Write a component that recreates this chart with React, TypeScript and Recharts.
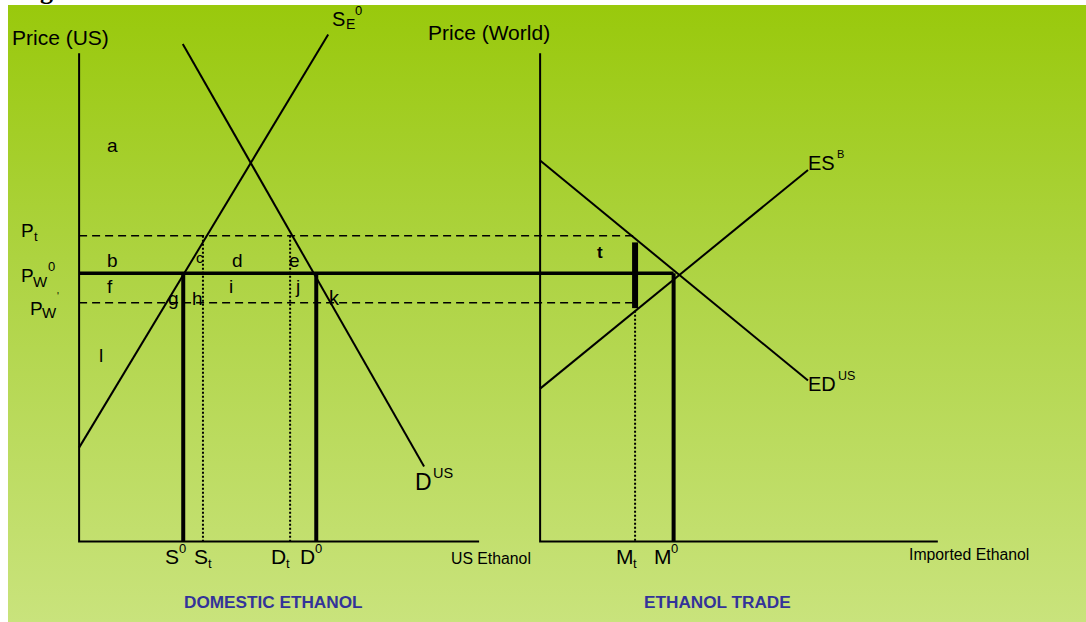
import { ComposedChart, Line, XAxis, YAxis } from 'recharts'

// diagram units: q = quantity, p = price (US panel starts at q=0, trade panel at TRADE_Q0)
const PW0 = 10
const PT = 11.4
const PW1 = 8.9
const AXIS_TOP = 18.2
const US_AXIS_END = 87.2
const TRADE_Q0 = 100.5
const TRADE_AXIS_END = 187.2

const Q_S0 = 22.7
const Q_ST = 27.0
const Q_DT = 46.0
const Q_D0 = 51.7
const Q_MT = 121.2
const Q_M0 = 129.6

const supplyUS = [{ q: 0, p: 3.5 }, { q: 54.3, p: 18.9 }]
const demandUS = [{ q: 22.6, p: 18.55 }, { q: 75.2, p: 2.8 }]
const esBrazil = [{ q: TRADE_Q0, p: 5.7 }, { q: 158.9, p: 13.85 }]
const edUS = [{ q: TRADE_Q0, p: 14.2 }, { q: 158.9, p: 6.0 }]
const tariffBar = [{ q: Q_MT, p: 11.15 }, { q: Q_MT, p: 8.7 }]

const usAxisY = [{ q: 0, p: AXIS_TOP }, { q: 0, p: 0 }, { q: US_AXIS_END, p: 0 }]
const tradeAxisY = [{ q: TRADE_Q0, p: AXIS_TOP }, { q: TRADE_Q0, p: 0 }, { q: TRADE_AXIS_END, p: 0 }]

const worldPrice = [{ q: 0, p: PW0 }, { q: Q_M0, p: PW0 }]
const tariffPrice = [{ q: 0, p: PT }, { q: Q_MT, p: PT }]
const lowPrice = [{ q: 0, p: PW1 }, { q: Q_MT, p: PW1 }]

const s0Drop = [{ q: Q_S0, p: PW0 }, { q: Q_S0, p: 0 }]
const d0Drop = [{ q: Q_D0, p: PW0 }, { q: Q_D0, p: 0 }]
const m0Drop = [{ q: Q_M0, p: PW0 }, { q: Q_M0, p: 0 }]
const stDrop = [{ q: Q_ST, p: PT }, { q: Q_ST, p: 0 }]
const dtDrop = [{ q: Q_DT, p: PT }, { q: Q_DT, p: 0 }]
const mtDrop = [{ q: Q_MT, p: 8.6 }, { q: Q_MT, p: 0 }]

const FONT = "'Liberation Sans', Arial, sans-serif"

function seg(key: string, data: { q: number; p: number }[], width: number, dash?: string) {
  return (
    <Line
      key={key}
      data={data}
      dataKey="p"
      stroke="#000"
      strokeWidth={width}
      strokeDasharray={dash}
      dot={false}
      activeDot={false}
      isAnimationActive={false}
      type="linear"
    />
  )
}

function T({ x, y, s, children, bold, fill }: { x: number; y: number; s: number; children: any; bold?: boolean; fill?: string }) {
  return (
    <text x={x} y={y} fontSize={s} fontFamily={FONT} fontWeight={bold ? 'bold' : 'normal'} fill={fill || '#000'}>
      {children}
    </text>
  )
}

export default function App() {
  return (
    <div style={{ position: 'absolute', left: 0, top: 0, width: 1086, height: 622, background: '#fff', overflow: 'hidden' }}>
      <div
        style={{
          position: 'absolute', left: 8, top: 5, width: 1078, height: 617,
          background: 'linear-gradient(to bottom, #99c90c 0%, #afd445 45%, #c9e37c 100%)',
        }}
      />
      <div style={{ position: 'absolute', left: 8, top: 5 }}>
        <ComposedChart width={1078} height={617} margin={{ top: 0, right: 0, bottom: 0, left: 0 }}>
          <XAxis type="number" dataKey="q" domain={[-15.5, 219.5]} hide allowDataOverflow />
          <YAxis type="number" dataKey="p" domain={[-3, 20]} hide allowDataOverflow />
          {seg('usAxis', usAxisY, 2)}
          {seg('tradeAxis', tradeAxisY, 2)}
          {seg('pt', tariffPrice, 1.5, '8 5')}
          {seg('pw1', lowPrice, 1.5, '8 5')}
          {seg('st', stDrop, 2, '2 2')}
          {seg('dt', dtDrop, 2, '2 2')}
          {seg('mt', mtDrop, 2, '2 2')}
          {seg('supply', supplyUS, 2)}
          {seg('demand', demandUS, 2)}
          {seg('es', esBrazil, 2)}
          {seg('ed', edUS, 2)}
          {seg('pw0', worldPrice, 3.5)}
          {seg('s0', s0Drop, 4)}
          {seg('d0', d0Drop, 4)}
          {seg('m0', m0Drop, 4)}
          {seg('tariff', tariffBar, 6)}
        </ComposedChart>
      </div>
      <svg width={1086} height={622} style={{ position: 'absolute', left: 0, top: 0, pointerEvents: 'none' }}>
        <text x={40} y={-1} fontSize={26} fontFamily="'Liberation Serif', serif" fontWeight="bold">g</text>
        <T x={12} y={45} s={21}>Price (US)</T>
        <T x={428} y={40} s={21}>Price (World)</T>
        <T x={451} y={564} s={15.8}>US Ethanol</T>
        <T x={909} y={560} s={15.8}>Imported Ethanol</T>
        <T x={184} y={608} s={17.2} bold fill="#333399">DOMESTIC ETHANOL</T>
        <T x={644} y={608} s={17.2} bold fill="#333399">ETHANOL TRADE</T>

        <T x={107} y={152} s={19}>a</T>
        <T x={107} y={267} s={19}>b</T>
        <T x={196} y={263} s={15}>c</T>
        <T x={232} y={267} s={19}>d</T>
        <T x={289} y={267} s={19}>e</T>
        <T x={107} y={293} s={19}>f</T>
        <T x={168} y={305} s={19}>g</T>
        <T x={192} y={305} s={19}>h</T>
        <T x={229} y={293} s={19}>i</T>
        <T x={296} y={293} s={19}>j</T>
        <T x={329} y={305} s={20}>k</T>
        <T x={99} y={362} s={19}>l</T>

        <T x={21} y={237} s={19}>P</T>
        <T x={34} y={241} s={13}>t</T>
        <T x={21} y={282} s={19}>P</T>
        <T x={33} y={287} s={15}>W</T>
        <T x={48} y={271} s={13}>0</T>
        <T x={30} y={315} s={19}>P</T>
        <T x={42} y={318} s={15}>W</T>
        <T x={57} y={300} s={10}>'</T>

        <T x={332} y={26} s={20}>S</T>
        <T x={346} y={29} s={14}>E</T>
        <T x={355} y={15} s={13}>0</T>
        <T x={415} y={490} s={23}>D</T>
        <T x={433} y={478} s={14.5}>US</T>
        <T x={808} y={170} s={20}>ES</T>
        <T x={837} y={158} s={11}>B</T>
        <T x={808} y={391} s={20}>ED</T>
        <T x={838} y={380} s={12.5}>US</T>
        <T x={597} y={258} s={17} bold>t</T>

        <T x={165} y={564} s={21}>S</T>
        <T x={179} y={553} s={13}>0</T>
        <T x={194} y={564} s={21}>S</T>
        <T x={208} y={568} s={13}>t</T>
        <T x={271} y={564} s={21}>D</T>
        <T x={286} y={568} s={13}>t</T>
        <T x={300} y={564} s={21}>D</T>
        <T x={315} y={553} s={13}>0</T>
        <T x={616} y={564} s={21}>M</T>
        <T x={633} y={568} s={13}>t</T>
        <T x={654} y={564} s={21}>M</T>
        <T x={671} y={553} s={13}>0</T>
      </svg>
    </div>
  )
}
